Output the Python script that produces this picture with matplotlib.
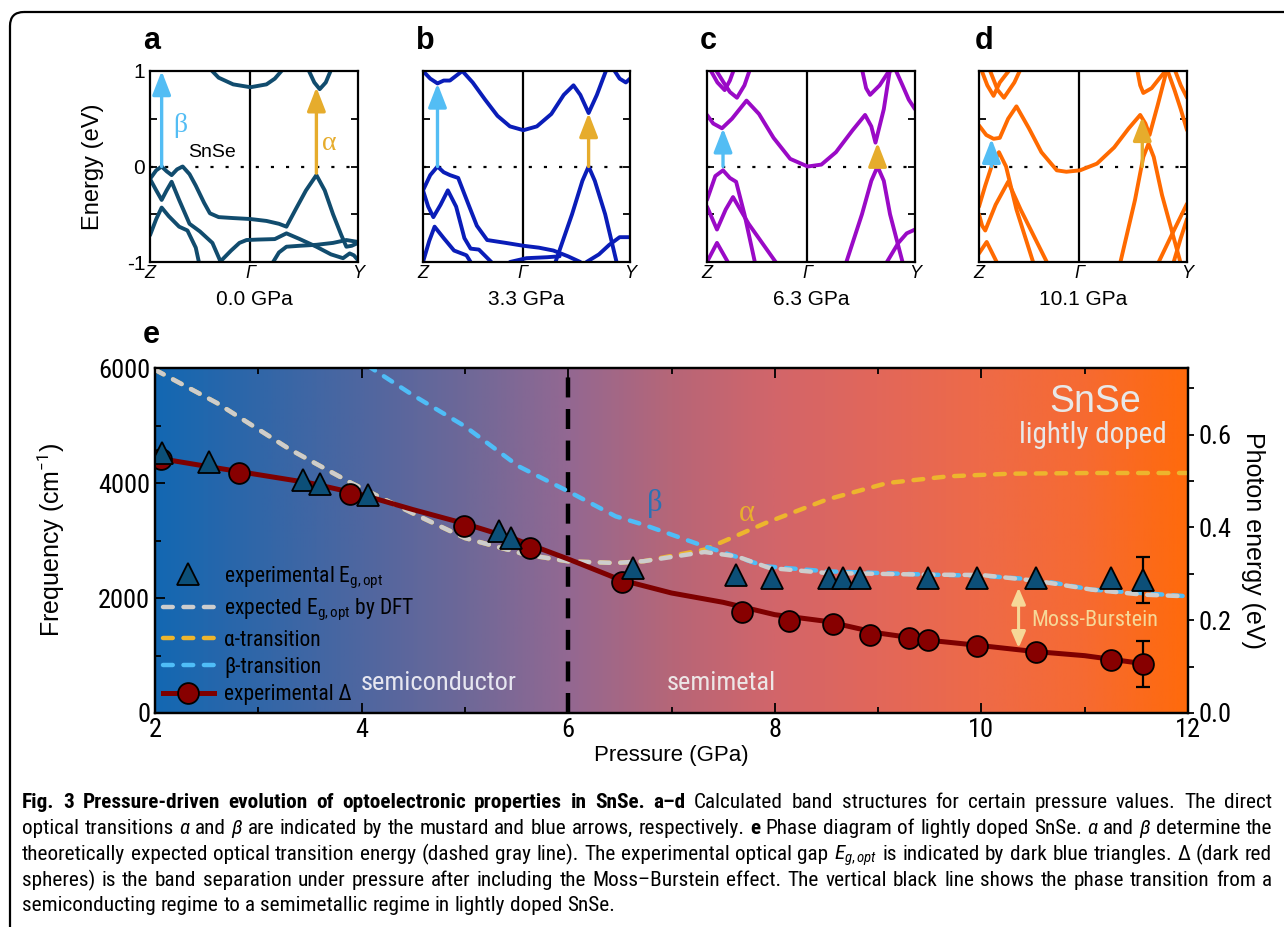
import os
import numpy as np
import matplotlib.pyplot as plt
from matplotlib import font_manager as fm
from matplotlib.font_manager import FontProperties
from matplotlib.colors import LinearSegmentedColormap
from matplotlib.patches import FancyBboxPatch
from matplotlib.lines import Line2D

W, H = 1284, 927

SANS = 'Liberation Sans'
SERIF = 'Liberation Serif'

# look for a condensed sans family (the figure uses a narrow Arial-like face)
font_files = {os.path.basename(f.fname): f.fname for f in fm.fontManager.ttflist}
narrow_sets = [
    ('LiberationSansNarrow-Regular.ttf', 'LiberationSansNarrow-Bold.ttf', 'LiberationSansNarrow-Italic.ttf'),
    ('RobotoCondensed-Regular.ttf', 'RobotoCondensed-Bold.ttf', 'RobotoCondensed-Italic.ttf'),
    ('NotoSans-Condensed.ttf', 'NotoSans-CondensedBold.ttf', 'NotoSans-CondensedItalic.ttf'),
    ('DejaVuSansCondensed.ttf', 'DejaVuSansCondensed-Bold.ttf', 'DejaVuSansCondensed-Oblique.ttf'),
]
narrow = None
for reg, bold, ital in narrow_sets:
    if reg in font_files and bold in font_files and ital in font_files:
        narrow = {'r': font_files[reg], 'b': font_files[bold], 'i': font_files[ital]}
        break


def nfont(kind, size):
    if narrow:
        p = FontProperties(fname=narrow[kind])
        p.set_size(size)
    else:
        p = FontProperties(family=SANS, weight='bold' if kind == 'b' else 'normal',
                           style='italic' if kind == 'i' else 'normal', size=size * 0.84)
    return p


NARROW_NAME = nfont('r', 10).get_name()
plt.rcParams['font.family'] = [SANS, 'DejaVu Sans']
plt.rcParams['mathtext.fontset'] = 'custom'
plt.rcParams['mathtext.rm'] = NARROW_NAME
plt.rcParams['mathtext.it'] = NARROW_NAME + ':italic'
plt.rcParams['mathtext.bf'] = NARROW_NAME + ':bold'
plt.rcParams['axes.unicode_minus'] = False

# ---------------- band structures (k: Z=0, Gamma=0.483, Y=1 ; energy in eV)
G = 0.483
bands_a = [
    ([0.29, 0.33, 0.40, 0.483, 0.56, 0.60, 0.64], [1.02, 0.93, 0.86, 0.83, 0.86, 0.92, 1.02]),
    ([0.76, 0.79, 0.816, 0.845, 0.872], [1.02, 0.88, 0.81, 0.88, 1.02]),
    ([0, 0.03, 0.056, 0.08, 0.104, 0.13, 0.157, 0.19, 0.22, 0.26, 0.288, 0.33, 0.40, 0.483, 0.56, 0.62,
      0.656, 0.70, 0.75, 0.80, 0.84, 0.88, 0.92, 0.944, 0.97, 1.0],
     [-0.13, -0.04, 0.0, -0.05, -0.09, -0.03, 0.0, -0.08, -0.2, -0.38, -0.49, -0.53, -0.54, -0.55, -0.57,
      -0.6, -0.63, -0.45, -0.25, -0.09, -0.25, -0.5, -0.72, -0.84, -0.83, -0.80]),
    ([0, 0.03, 0.056, 0.08, 0.104, 0.14, 0.19, 0.24, 0.30, 0.34],
     [-0.13, -0.25, -0.35, -0.25, -0.16, -0.35, -0.6, -0.68, -0.8, -1.0]),
    ([0, 0.03, 0.056, 0.09, 0.14, 0.18, 0.22, 0.235], [-0.72, -0.55, -0.43, -0.52, -0.63, -0.67, -0.85, -1.0]),
    ([0.336, 0.39, 0.43, 0.464, 0.52, 0.60, 0.656, 0.72, 0.80, 0.87, 0.928, 0.96, 0.98, 1.0],
     [-1.0, -0.88, -0.8, -0.77, -0.765, -0.76, -0.70, -0.76, -0.84, -0.92, -0.96, -0.91, -0.93, -0.98]),
    ([0.592, 0.62, 0.656, 0.72, 0.80, 0.88, 0.944, 1.0], [-1.0, -0.9, -0.84, -0.83, -0.82, -0.80, -0.77, -0.79]),
]
bands_b = [
    ([0, 0.035, 0.07, 0.10, 0.13, 0.16, 0.19, 0.24, 0.30, 0.36, 0.42, 0.485, 0.55, 0.62, 0.68, 0.727, 0.76,
      0.80, 0.84, 0.887],
     [1.0, 0.92, 0.87, 0.9, 0.9, 0.95, 1.0, 0.88, 0.7, 0.53, 0.42, 0.38, 0.42, 0.55, 0.75, 0.85, 0.75, 0.56,
      0.75, 1.02]),
    ([0.92, 0.95, 0.98, 1.0], [1.02, 0.92, 0.88, 0.92]),
    ([0, 0.035, 0.07, 0.10, 0.13, 0.17, 0.22, 0.26, 0.31, 0.40, 0.485, 0.56, 0.63, 0.70, 0.76],
     [-0.25, -0.09, 0.0, -0.06, -0.09, -0.12, -0.4, -0.62, -0.77, -0.8, -0.83, -0.85, -0.88, -0.94, -1.0]),
    ([0.64, 0.72, 0.77, 0.80, 0.83, 0.88, 0.935], [-1.0, -0.5, -0.15, 0.0, -0.15, -0.5, -1.0]),
    ([0.42, 0.5, 0.6, 0.66], [-1.0, -0.96, -0.95, -0.94]),
    ([0.79, 0.85, 0.9, 0.95, 1.0], [-1.0, -0.92, -0.82, -0.74, -0.74]),
    ([0, 0.025, 0.05, 0.085, 0.12, 0.16, 0.20, 0.23, 0.27, 0.33],
     [-0.25, -0.42, -0.53, -0.4, -0.25, -0.42, -0.75, -0.86, -0.87, -1.0]),
    ([0, 0.03, 0.056, 0.1, 0.15, 0.21, 0.23], [-1.0, -0.78, -0.63, -0.75, -0.88, -0.93, -1.0]),
]
bands_c = [
    ([0, 0.03, 0.072, 0.12, 0.19, 0.25, 0.32, 0.40, 0.484, 0.55, 0.62, 0.70, 0.76, 0.79, 0.81, 0.85, 0.88],
     [0.54, 0.45, 0.40, 0.50, 0.69, 0.55, 0.30, 0.08, 0.0, 0.02, 0.15, 0.38, 0.54, 0.42, 0.25, 0.6, 1.02]),
    ([0.014, 0.05, 0.085, 0.11, 0.13], [1.02, 0.88, 0.8, 0.9, 1.02]),
    ([0.04, 0.08, 0.11, 0.144, 0.18, 0.207], [1.02, 0.88, 0.78, 0.72, 0.85, 1.02]),
    ([0.745, 0.765, 0.784, 0.83, 0.875, 0.913], [1.02, 0.82, 0.75, 0.85, 1.0, 1.02]),
    ([0.905, 0.94, 0.97, 1.0], [1.02, 0.85, 0.7, 0.6]),
    ([0.67, 0.745, 0.79, 0.82, 0.85, 0.88, 0.94], [-1.0, -0.5, -0.15, 0.0, -0.15, -0.5, -1.0]),
    ([0, 0.04, 0.077, 0.11, 0.14, 0.18, 0.23], [-0.35, -0.1, -0.04, -0.12, -0.16, -0.5, -1.0]),
    ([0, 0.048, 0.09, 0.125, 0.2, 0.33], [-0.42, -0.66, -0.45, -0.32, -0.6, -1.0]),
    ([0, 0.048, 0.10], [-1.0, -0.8, -1.0]),
    ([0.865, 0.92, 0.96, 1.0], [-1.0, -0.8, -0.7, -0.66]),
]
bands_d = [
    ([0, 0.035, 0.07, 0.10, 0.14, 0.18, 0.24, 0.30, 0.374, 0.42, 0.486, 0.567, 0.65, 0.72, 0.775, 0.80, 0.82,
      0.86, 0.904],
     [0.43, 0.33, 0.29, 0.30, 0.5, 0.63, 0.4, 0.15, -0.04, -0.055, -0.04, 0.03, 0.2, 0.4, 0.54, 0.45, 0.33,
      0.65, 1.02]),
    ([0.01, 0.04, 0.07, 0.1, 0.15], [1.02, 0.85, 0.74, 0.88, 1.02]),
    ([0.05, 0.09, 0.12, 0.17, 0.2], [1.02, 0.8, 0.72, 0.88, 1.02]),
    ([0.76, 0.775, 0.79, 0.83, 0.87, 0.904], [1.02, 0.85, 0.77, 0.82, 0.93, 1.02]),
    ([0.904, 0.94, 0.97, 1.0], [1.02, 0.8, 0.6, 0.38]),
    ([0.94, 0.97, 1.0], [1.02, 0.85, 0.72]),
    ([0, 0.03, 0.06, 0.096, 0.13, 0.18, 0.26], [-0.42, -0.2, 0.0, 0.15, 0.0, -0.45, -1.0]),
    ([0, 0.015, 0.03, 0.08, 0.14, 0.2, 0.326], [-0.5, -0.62, -0.67, -0.4, -0.16, -0.45, -1.0]),
    ([0, 0.037, 0.085], [-0.91, -0.79, -1.0]),
    ([0.68, 0.75, 0.79, 0.815, 0.84, 0.88, 0.968], [-1.0, -0.35, 0.1, 0.24, 0.1, -0.3, -1.0]),
    ([0.864, 0.93, 1.0], [-1.0, -0.7, -0.39]),
    ([0.936, 0.97, 1.0], [-1.0, -0.75, -0.55]),
]
# arrows: (k, E_start, E_end)
beta_arrows = [(0.056, 0.0, 1.0), (0.07, 0.0, 0.87), (0.077, 0.0, 0.40), (0.06, 0.0, 0.29)]
alpha_arrows = [(0.80, -0.07, 0.83), (0.80, 0.0, 0.56), (0.82, 0.0, 0.25), (0.785, 0.0, 0.52)]
pressures = ['0.0 GPa', '3.3 GPa', '6.3 GPa', '10.1 GPa']
letters = ['a', 'b', 'c', 'd']

# ---------------- panel e data
tri_p = [2.07, 2.52, 3.43, 3.60, 4.06, 5.33, 5.45, 6.63, 7.62, 7.97, 8.52, 8.66, 8.82, 9.48, 9.96, 10.53, 11.25, 11.56]
tri_f = [4530, 4370, 4060, 3985, 3795, 3170, 3050, 2520, 2400, 2350, 2350, 2350, 2350, 2350, 2350, 2350, 2350, 2320]
circ_p = [2.06, 2.81, 3.89, 4.99, 5.63, 6.52, 7.68, 8.14, 8.56, 8.92, 9.30, 9.48, 9.96, 10.53, 11.25, 11.56]
circ_f = [4410, 4174, 3814, 3258, 2870, 2272, 1751, 1594, 1554, 1362, 1304, 1264, 1159, 1055, 928, 845]
fit_p = [2.0, 2.5, 3.0, 3.5, 4.0, 4.5, 5.0, 5.5, 6.0, 6.5, 7.0, 7.5, 8.0, 8.5, 9.0, 9.5, 10.0, 10.5, 11.0, 11.56]
fit_f = [4440, 4290, 4145, 4000, 3797, 3536, 3293, 3014, 2678, 2319, 2087, 1925, 1710, 1594, 1391, 1264, 1171, 1072, 997, 860]
alpha_p = [2.0, 2.6, 3.31, 3.9, 4.49, 5.0, 5.59, 6.0, 6.46, 6.73, 7.32, 7.91, 8.5, 9.09, 9.68, 10.28, 11.07, 12.0]
alpha_f = [5970, 5391, 4580, 4000, 3478, 3043, 2754, 2638, 2609, 2640, 2841, 3304, 3710, 4000, 4116, 4162, 4174, 4174]
beta_p = [4.05, 4.49, 5.0, 5.52, 6.0, 6.46, 6.73, 7.32, 7.91, 8.5, 9.49, 10.0, 10.53, 11.07, 12.0]
beta_f = [6050, 5536, 4986, 4290, 3855, 3420, 3275, 2899, 2551, 2464, 2406, 2388, 2319, 2145, 2029]
dft_p = [2.0, 2.6, 3.31, 3.9, 4.49, 5.0, 5.59, 6.0, 6.46, 6.73, 7.32, 7.63, 7.95, 8.5, 9.49, 10.0, 10.53, 11.07, 11.56, 12.0]
dft_f = [5970, 5391, 4580, 4000, 3478, 3043, 2754, 2638, 2609, 2640, 2800, 2725, 2522, 2435, 2406, 2400, 2300, 2145, 2058, 2029]
err_tri = 400
err_circ = 400
mb_p, mb_lo, mb_hi = 10.36, 1130, 2180
transition_p = 6.0
CM_PER_EV = 8065.54

# ---------------- figure
fig = plt.figure(figsize=(W / 100, H / 100), dpi=100)
canvas = fig.add_axes([0, 0, 1, 1], zorder=-5)
canvas.set_xlim(0, W)
canvas.set_ylim(H, 0)
canvas.axis('off')
canvas.add_patch(FancyBboxPatch((10, 12), 1320, 960, boxstyle='round,pad=0,rounding_size=14',
                                fc='none', ec='k', lw=1.6))

band_colors = ['#114C6E', '#0A1DB8', '#9A0AC6', '#FF6A00']
panel_x = [(150, 358), (423, 630), (707, 915), (979, 1187)]
letter_x = [143, 416, 700, 975]
all_bands = [bands_a, bands_b, bands_c, bands_d]

for i in range(4):
    x0, x1 = panel_x[i]
    ax = fig.add_axes([x0 / W, 1 - 262 / H, (x1 - x0) / W, 191 / H])
    for k, e in all_bands[i]:
        ax.plot(k, e, color=band_colors[i], lw=2.8, solid_joinstyle='round', solid_capstyle='round', zorder=2)
    ax.axvline(G, color='k', lw=1.6, zorder=1)
    ax.axhline(0, color='k', lw=1.6, ls=(0, (1.4, 5.4)), zorder=1)
    kb, e0, e1 = beta_arrows[i]
    ax.annotate('', xy=(kb, e1), xytext=(kb, e0),
                arrowprops=dict(arrowstyle='-|>,head_length=0.9,head_width=0.35', color='#53BDF4',
                                lw=2.4, shrinkA=0, shrinkB=0, mutation_scale=16), zorder=3)
    ka, e0, e1 = alpha_arrows[i]
    ax.annotate('', xy=(ka, e1), xytext=(ka, e0),
                arrowprops=dict(arrowstyle='-|>,head_length=0.9,head_width=0.35', color='#E6AC2C',
                                lw=2.4, shrinkA=0, shrinkB=0, mutation_scale=16), zorder=3)
    ax.set_xlim(0, 1)
    ax.set_ylim(-1, 1)
    ax.set_xticks([0, G, 1])
    ax.set_xticklabels(['Z', 'Γ', 'Y'], fontstyle='italic', fontsize=13)
    ax.set_yticks([-1, -0.5, 0, 0.5, 1])
    ax.tick_params(axis='x', length=0, pad=2)
    ax.tick_params(axis='y', direction='in', length=5, width=1.3, left=True, right=True, labelsize=15)
    if i == 0:
        ax.set_yticklabels(['-1', '', '0', '', '1'])
        ax.set_ylabel('Energy (eV)', fontsize=17, labelpad=16)
        ax.text(0.144, 0.43, 'β', color='#53BDF4', fontsize=20, family=SERIF, ha='center', va='center')
        ax.text(0.864, 0.24, 'α', color='#E6AC2C', fontsize=20, family=SERIF, ha='center', va='center')
        ax.text(0.30, 0.15, 'SnSe', fontsize=14, ha='center', va='center')
    else:
        ax.set_yticklabels([])
    for s in ax.spines.values():
        s.set_linewidth(1.6)
    ax.set_xlabel(pressures[i], fontsize=15, labelpad=6)
    canvas.text(letter_x[i], 49, letters[i], fontsize=22, fontweight='bold', ha='left', va='baseline')

# ---------------- panel e
canvas.text(143, 343, 'e', fontsize=22, fontweight='bold', ha='left', va='baseline')
ax = fig.add_axes([155 / W, 1 - 713 / H, 1033 / W, 345 / H])
grad_colors = ['#1368B2', '#3166A8', '#4F66A0', '#6E6898', '#936892', '#B66678', '#D2656A',
               '#E2675A', '#EE6A48', '#F66A32', '#FF6A0C']
cmap = LinearSegmentedColormap.from_list('bg', grad_colors)
ax.imshow(np.linspace(0, 1, 512)[None, :], extent=[2, 12, 0, 6000], aspect='auto', cmap=cmap,
          origin='lower', zorder=0)

dash = dict(lw=3.2, dash_capstyle='round')
ax.plot(alpha_p, alpha_f, color='#EDB52D', dashes=(2.2, 2.4), zorder=3, **dash)
ax.plot(beta_p, beta_f, color='#4FBDF7', dashes=(2.2, 2.4), zorder=3, **dash)
ax.plot(dft_p, dft_f, color='#CDCDCD', dashes=(2.2, 2.4), zorder=4, **dash)
ax.plot([transition_p, transition_p], [0, 6000], color='k', lw=3.2, dashes=(4.5, 2.6), zorder=2)

ax.plot(fit_p, fit_f, color='#7E0000', lw=3.6, zorder=5, solid_capstyle='round')
ax.errorbar(circ_p[-1:], circ_f[-1:], yerr=err_circ, fmt='none', ecolor='k', elinewidth=1.6, capsize=5,
            capthick=1.6, zorder=5)
ax.errorbar(tri_p[-1:], tri_f[-1:], yerr=err_tri, fmt='none', ecolor='k', elinewidth=1.6, capsize=5,
            capthick=1.6, zorder=5)
ax.plot(circ_p, circ_f, ls='none', marker='o', ms=15, mfc='#870000', mec='k', mew=1.3, zorder=6)
ax.plot(tri_p, tri_f, ls='none', marker='^', ms=16, mfc='#0C4F78', mec='k', mew=1.3, zorder=7)

ax.annotate('', xy=(mb_p, mb_hi), xytext=(mb_p, mb_lo),
            arrowprops=dict(arrowstyle='<|-|>,head_length=0.7,head_width=0.3', color='#F6D898', lw=2.2,
                            shrinkA=0, shrinkB=0, mutation_scale=14), zorder=6)
ax.text(10.48, 1600, 'Moss-Burstein', color='#F6D898', fontproperties=nfont('r', 16), va='center', ha='left')
ax.text(6.84, 3650, 'β', color='#2A72B5', fontsize=22, family=SERIF, ha='center', va='center')
ax.text(7.73, 3470, 'α', color='#E8AE2E', fontsize=22, family=SERIF, ha='center', va='center')
ax.text(11.1, 5400, 'SnSe', color='#E8E8E8', fontsize=27, family=SANS, ha='center', va='center')
ax.text(11.08, 4840, 'lightly doped', color='#E8E8E8', fontproperties=nfont('r', 21), ha='center', va='center')
ax.text(4.75, 522, 'semiconductor', color='#E6E6F0', fontproperties=nfont('r', 19), ha='center', va='center')
ax.text(7.48, 522, 'semimetal', color='#EDE6E6', fontproperties=nfont('r', 19), ha='center', va='center')

ax.set_xlim(2, 12)
ax.set_ylim(0, 6000)
ax.set_xticks([2, 4, 6, 8, 10, 12])
ax.set_xticks([3, 5, 7, 9, 11], minor=True)
ax.set_yticks([0, 2000, 4000, 6000])
ax.set_yticks([1000, 3000, 5000], minor=True)
ax.tick_params(which='both', direction='in', top=True, right=False, width=1.3)
ax.tick_params(which='major', length=7)
ax.tick_params(which='minor', length=4)
for lab in ax.get_xticklabels() + ax.get_yticklabels():
    lab.set_fontproperties(nfont('r', 19))
ax.set_xlabel('Pressure (GPa)', fontsize=16, labelpad=2)
ax.set_ylabel('Frequency (cm$^{-1}$)', fontsize=18, labelpad=22)
for s in ax.spines.values():
    s.set_linewidth(1.6)

ax2 = ax.twinx()
ax2.set_ylim(0, 6000 / CM_PER_EV)
ax2.set_yticks([0.0, 0.2, 0.4, 0.6])
ax2.set_yticks([0.1, 0.3, 0.5, 0.7], minor=True)
ax2.set_yticklabels(['0.0', '0.2', '0.4', '0.6'])
for lab in ax2.get_yticklabels():
    lab.set_fontproperties(nfont('r', 19))
ax2.tick_params(which='both', direction='out', width=1.3, length=4)
ax2.set_ylabel('Photon energy (eV)', rotation=270, fontsize=18, labelpad=24)
for s in ax2.spines.values():
    s.set_linewidth(1.6)

handles = [
    Line2D([], [], ls='none', marker='^', ms=16, mfc='#0C4F78', mec='k', mew=1.3),
    Line2D([], [], color='#CDCDCD', dashes=(2.2, 2.4), **dash),
    Line2D([], [], color='#EDB52D', dashes=(2.2, 2.4), **dash),
    Line2D([], [], color='#4FBDF7', dashes=(2.2, 2.4), **dash),
    Line2D([], [], color='#7E0000', lw=3.6, marker='o', ms=15, mfc='#870000', mec='k', mew=1.3),
]
labels = ['experimental E$_{\\mathrm{g,opt}}$', 'expected E$_{\\mathrm{g,opt}}$ by DFT', 'α-transition',
          'β-transition', 'experimental Δ']
leg = ax.legend(handles, labels, loc='lower left', bbox_to_anchor=(0.0, 0.0), frameon=False,
                prop=nfont('r', 15.5), handlelength=2.4, handletextpad=0.45,
                labelspacing=0.3, borderaxespad=0.15, borderpad=0.2)
leg.set_zorder(10)

# ---------------- caption (justified)
cap_lines = [
    [("Fig. 3 Pressure-driven evolution of optoelectronic properties in SnSe. a–d", 'b'),
     ("Calculated band structures for certain pressure values. The direct", 'r')],
    [("optical transitions", 'r'), ("α", 'i'), ("and", 'r'), ("β", 'i'),
     ("are indicated by the mustard and blue arrows, respectively.", 'r'), ("e", 'b'),
     ("Phase diagram of lightly doped SnSe.", 'r'), ("α", 'i'), ("and", 'r'), ("β", 'i'),
     ("determine the", 'r')],
    [("theoretically expected optical transition energy (dashed gray line). The experimental optical gap", 'r'),
     ("$E_{g,opt}$", 'm'), ("is indicated by dark blue triangles. Δ (dark red", 'r')],
    [("spheres) is the band separation under pressure after including the Moss–Burstein effect. "
      "The vertical black line shows the phase transition from a", 'r')],
    [("semiconducting regime to a semimetallic regime in lightly doped SnSe.", 'r')],
]
cap_y = [808, 834, 860, 886, 911]
cap_left, cap_right = 22, 1272
cap_size = 15.3

renderer = fig.canvas.get_renderer()
probe = canvas.text(0, 0, 'a a', fontproperties=nfont('r', cap_size))
probe1 = canvas.text(0, 0, 'aa', fontproperties=nfont('r', cap_size))
space_w = probe.get_window_extent(renderer=renderer).width - probe1.get_window_extent(renderer=renderer).width
probe.remove()
probe1.remove()
for li, segs in enumerate(cap_lines):
    words = []
    for txt, st in segs:
        parts = [txt] if st == 'm' else txt.split(' ')
        for p in parts:
            prop = nfont('r' if st == 'm' else st, cap_size)
            words.append(canvas.text(0, cap_y[li], p, fontproperties=prop, va='baseline', ha='left'))
    widths = [t.get_window_extent(renderer=renderer).width for t in words]
    if li < len(cap_lines) - 1 and len(words) > 1:
        gap = (cap_right - cap_left - sum(widths)) / (len(words) - 1)
    else:
        gap = space_w
    x = cap_left
    for t, w in zip(words, widths):
        t.set_x(x)
        x += w + gap

fig.savefig('out.png', dpi=100)
